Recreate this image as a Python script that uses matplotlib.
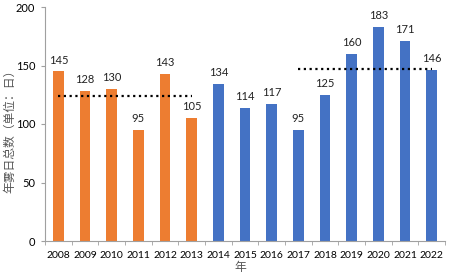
import matplotlib
matplotlib.use("Agg")
import matplotlib.pyplot as plt
import numpy as np

years = ["2008", "2009", "2010", "2011", "2012", "2013", "2014", "2015",
         "2016", "2017", "2018", "2019", "2020", "2021", "2022"]
values = [145, 128, 130, 95, 143, 105, 134, 114, 117, 95, 125, 160, 183, 171, 146]
n_orange = 6
orange = "#ED7D31"
blue = "#4472C4"
mean1_range = (0, 5)
mean2_range = (9, 14)

plt.rcParams['font.family'] = ['Lato', 'DejaVu Sans']

fig = plt.figure(figsize=(4.62, 2.74), dpi=100)
ax = fig.add_axes([45/462, 33/274, 400/462, 234/274])

x = np.arange(len(years))
colors = [orange if i < n_orange else blue for i in range(len(years))]
ax.bar(x, values, width=0.4, color=colors, zorder=2)
for xi, v in zip(x, values):
    ax.text(xi, v + 5, str(v), ha='center', va='bottom', fontsize=8, color='#222222')

m1 = np.mean(values[mean1_range[0]:mean1_range[1] + 1])
m2 = np.mean(values[mean2_range[0]:mean2_range[1] + 1])
ax.plot([mean1_range[0], mean1_range[1]], [m1, m1], linestyle=(0, (1, 1.6)), color='black', lw=1.6, zorder=3)
ax.plot([mean2_range[0], mean2_range[1]], [m2, m2], linestyle=(0, (1, 1.6)), color='black', lw=1.6, zorder=3)

ax.set_xlim(-0.5, len(years) - 0.5)
ax.set_ylim(0, 200)
ax.set_yticks([0, 50, 100, 150, 200])
ax.set_xticks(x)
ax.set_xticklabels(years, fontsize=7.5)
ax.tick_params(axis='y', labelsize=8, length=3, color='#A0A0A0', pad=4)
ax.tick_params(axis='x', length=0, pad=7)
ax.set_xticks(np.arange(-0.5, len(years), 1), minor=True)
ax.tick_params(axis='x', which='minor', length=3, color='#A0A0A0')

for s in ['top', 'right']:
    ax.spines[s].set_visible(False)
for s in ['left', 'bottom']:
    ax.spines[s].set_color('#A0A0A0')
    ax.spines[s].set_linewidth(0.8)

cjk = ['Noto Sans CJK SC', 'DejaVu Sans']
fig.text(10/462, 1 - 128/274, "年雾日总数（单位：日）", family=cjk, fontsize=8.5,
         color='#555555', rotation=90, ha='center', va='center')
fig.text(240/462, 1 - 267/274, "年", family=cjk, fontsize=8.5,
         color='#555555', ha='center', va='center')

fig.savefig("out.png", dpi=100)
